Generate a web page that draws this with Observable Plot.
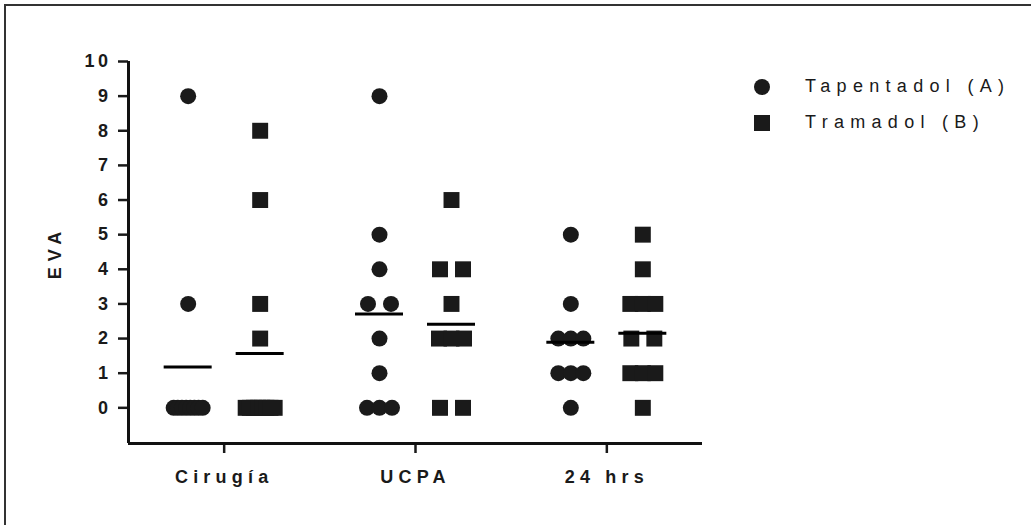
<!DOCTYPE html>
<html><head><meta charset="utf-8">
<script src="https://cdn.jsdelivr.net/npm/d3@7"></script>
<script src="https://cdn.jsdelivr.net/npm/@observablehq/plot@0.6"></script>
<style>
html,body{margin:0;padding:0;background:#fff;}
#wrap{position:relative;width:1031px;height:525px;overflow:hidden;font-family:"Liberation Sans",Arial,sans-serif;}
#frame{position:absolute;left:4px;top:4px;width:1100px;height:600px;border-top:2px solid #333;border-left:2px solid #333;box-sizing:border-box;}
#chart{position:absolute;left:0;top:0;}
#wrap svg g[aria-label="x-axis tick label"], #wrap svg g[aria-label="x-axis tick label"] text{font-size:18px !important;font-weight:bold !important;letter-spacing:5.2px;fill:#1a1a1a;}
#wrap svg g[aria-label="y-axis tick label"], #wrap svg g[aria-label="y-axis tick label"] text{font-size:18px !important;font-weight:bold !important;letter-spacing:3.5px;fill:#1a1a1a;}
#wrap svg g[aria-label="text"], #wrap svg g[aria-label="text"] text{font-size:18px !important;font-weight:bold !important;letter-spacing:6px;}
.leg{position:absolute;left:754px;display:flex;align-items:center;font-size:18px;letter-spacing:6.3px;color:#1a1a1a;}
.leg .m{width:16px;height:16px;background:#1a1a1a;margin-right:35px;flex:none;}
.leg .m.c{border-radius:50%;}
</style>
</head><body>
<div id="wrap"><div id="frame"></div><div id="chart"></div>
<div id="legend"></div></div>
<script>
const groups = ["Cirugía", "UCPA", "24 hrs"];
const series = ["Tapentadol (A)", "Tramadol (B)"];
const tapentadol = [
  [9, 3, 0, 0, 0, 0, 0, 0, 0, 0],
  [9, 5, 4, 3, 3, 2, 1, 0, 0, 0],
  [5, 3, 2, 2, 2, 1, 1, 1, 0]
];
const tramadol = [
  [8, 6, 3, 2, 0, 0, 0, 0, 0, 0, 0, 0],
  [6, 4, 4, 3, 2, 2, 2, 0, 0],
  [5, 4, 3, 3, 3, 2, 2, 1, 1, 1, 0]
];
const meanTapentadol = [1.18, 2.71, 1.89];
const meanTramadol = [1.57, 2.41, 2.15];
const yTicks = [0, 1, 2, 3, 4, 5, 6, 7, 8, 9, 10];
const yLabel = "EVA";

const W = 1031, H = 525, mL = 128, mR = 329, mT = 61, mB = 82;
const yMin = -1.03, yMax = 10, xMin = 0, xMax = groups.length;
const PX = (W - mL - mR) / (xMax - xMin); // px per x unit
const seriesOffset = 36, meanHalf = 24;
function halfSpan(k) { return k === 1 ? 0 : k === 2 ? 11.5 : k === 3 ? 12.5 : 14.5; }

const seriesData = [tapentadol, tramadol];
const means = [meanTapentadol, meanTramadol];
const points = [], meanRows = [];
seriesData.forEach((sd, si) => {
  sd.forEach((vals, gi) => {
    const center = gi + 0.5 + (si === 0 ? -1 : 1) * seriesOffset / PX;
    const counts = d3.rollup(vals, v => v.length, d => d);
    const seen = new Map();
    vals.forEach(v => {
      const k = counts.get(v);
      const j = seen.get(v) || 0; seen.set(v, j + 1);
      const hs = halfSpan(k);
      const off = k === 1 ? 0 : -hs + (2 * hs) * j / (k - 1);
      points.push({series: series[si], si, value: v, x: center + off / PX});
    });
    meanRows.push({series: series[si], value: means[si][gi], c: center});
  });
});

const fill = "#1a1a1a";
const chart = Plot.plot({
  width: W, height: H,
  marginLeft: mL, marginRight: mR, marginTop: mT, marginBottom: mB,
  style: {fontFamily: "'Liberation Sans', Arial, sans-serif", background: "transparent", color: "#1a1a1a", overflow: "visible"},
  x: {domain: [xMin, xMax], axis: null},
  y: {domain: [yMin, yMax], axis: null},
  marks: [
    Plot.axisY(yTicks, {anchor: "left", tickSize: 10, tickPadding: 7, fontSize: 18, fontWeight: "bold", strokeWidth: 2.5, label: null, tickFormat: d => String(d)}),
    Plot.axisX(groups.map((g, i) => i + 0.5), {anchor: "bottom", tickSize: 10, tickPadding: 17, fontSize: 18, fontWeight: "bold", strokeWidth: 2.5, label: null, tickFormat: d => groups[Math.floor(d)]}),
    Plot.ruleX([xMin], {y1: yMin, y2: yMax, stroke: "#111", strokeWidth: 3}),
    Plot.ruleY([yMin], {x1: xMin, x2: xMax, stroke: "#111", strokeWidth: 3}),
    Plot.dot(points.filter(d => d.si === 0), {x: "x", y: "value", r: 8, symbol: "circle", fill, stroke: "none"}),
    Plot.dot(points.filter(d => d.si === 1), {x: "x", y: "value", r: 9, symbol: "square", fill, stroke: "none"}),
    Plot.ruleY(meanRows, {y: "value", x1: d => d.c - meanHalf / PX, x2: d => d.c + meanHalf / PX, stroke: "#000", strokeWidth: 3}),
    Plot.text([yLabel], {frameAnchor: "left", textAnchor: "middle", dx: -73, rotate: -90, fontSize: 18, fontWeight: "bold", fill: "#1a1a1a"})
  ]
});
document.getElementById("chart").appendChild(chart);

const legend = document.getElementById("legend");
series.forEach((s, i) => {
  const row = document.createElement("div");
  row.className = "leg";
  row.style.top = (76 + i * 36) + "px";
  row.innerHTML = `<span class="m ${i === 0 ? "c" : ""}"></span><span>${s}</span>`;
  legend.appendChild(row);
});
</script>
</body></html>
